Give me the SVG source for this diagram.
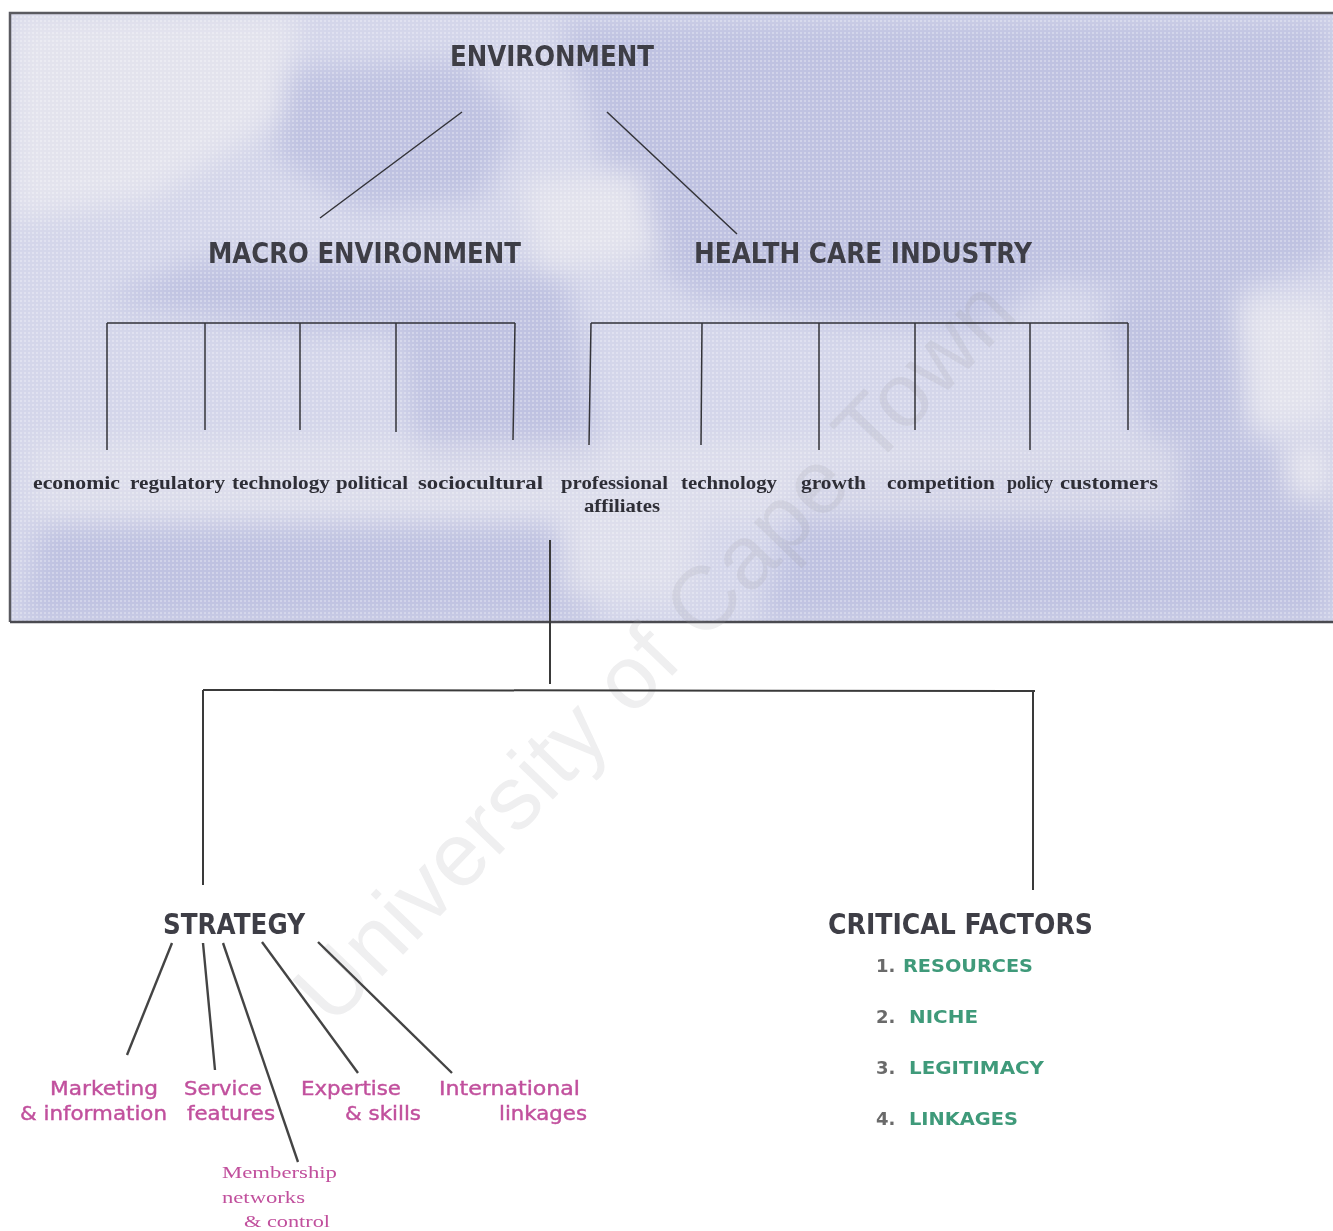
<svg xmlns="http://www.w3.org/2000/svg" width="1333" height="1231" viewBox="0 0 1333 1231">
  <defs>
    <filter id="soft" x="-20%" y="-20%" width="140%" height="140%">
      <feGaussianBlur stdDeviation="14"/>
    </filter>
    <pattern id="dots" width="4" height="4" patternUnits="userSpaceOnUse">
      <rect x="0" y="0" width="2" height="2" fill="#ffffff" opacity="0.28"/>
    </pattern>
    <clipPath id="panelClip">
      <rect x="10" y="13" width="1323" height="609"/>
    </clipPath>
    <style>
      .hd { font-family: "DejaVu Sans", Verdana, sans-serif; font-weight: bold; font-size: 28px; fill: #3e3e46; }
      .fac { font-family: "Liberation Serif", "Times New Roman", serif; font-weight: bold; font-size: 19px; fill: #2e2e36; }
      .ln { stroke: #333338; stroke-width: 1.5; fill: none; }
      .cn { stroke: #3a3a3a; stroke-width: 2; fill: none; }
      .st { stroke: #444; stroke-width: 2.4; fill: none; }
      .pk { font-family: "DejaVu Sans", Verdana, sans-serif; font-size: 19px; fill: #c1509d; stroke: #c1509d; stroke-width: 0.4; }
      .pks { font-family: "Liberation Serif", "Times New Roman", serif; font-size: 17px; fill: #c1509d; }
      .num { font-family: "DejaVu Sans", Verdana, sans-serif; font-weight: bold; font-size: 18px; fill: #6a6a6a; }
      .cf { font-family: "DejaVu Sans", Verdana, sans-serif; font-weight: bold; font-size: 18px; fill: #3f9a7a; }
    </style>
  </defs>

  <rect width="1333" height="1231" fill="#ffffff"/>

  <!-- cloud-textured environment panel -->
  <g id="panel">
    <g clip-path="url(#panelClip)">
      <rect x="10" y="13" width="1323" height="609" fill="#d4d6ea"/>
      <!-- darker cloud masses -->
      <g fill="#bfc2e1" filter="url(#soft)">
        <path d="M560 20 L1333 20 L1333 260 L1200 300 L1050 280 L980 330 L820 320 L700 300 L620 240 L600 150 Z"/>
        <path d="M260 70 L460 60 L520 120 L480 200 L360 210 L280 160 Z"/>
        <path d="M100 300 L200 260 L560 270 L580 330 L300 330 Z"/>
        <path d="M400 330 L580 330 L600 470 L420 470 Z"/>
        <path d="M40 520 L560 520 L600 622 L20 622 Z"/>
        <path d="M800 470 L1333 440 L1333 622 L760 622 Z"/>
        <path d="M1100 300 L1240 280 L1260 440 L1150 450 Z"/>
      </g>
      <!-- pale patches -->
      <g fill="#e3e3ed" filter="url(#soft)">
        <path d="M10 13 L300 13 L280 120 L150 200 L10 220 Z"/>
        <path d="M1240 300 L1333 300 L1333 420 L1250 430 Z"/>
        <path d="M1280 440 L1333 440 L1333 500 L1290 500 Z"/>
        <path d="M520 180 L640 170 L660 260 L540 270 Z"/>
        <path d="M30 440 L1180 440 L1180 520 L30 520 Z" opacity="0.6"/>
        <path d="M560 520 L700 520 L690 600 L560 600 Z" opacity="0.7"/>
      </g>
      <rect x="10" y="13" width="1323" height="609" fill="url(#dots)"/>
    </g>
    <!-- panel frame -->
    <path d="M10 622 L10 13 L1333 13" stroke="#5a5a60" stroke-width="2.5" fill="none"/>
    <line x1="10" y1="622" x2="1333" y2="622" stroke="#4a4a50" stroke-width="2.5"/>
  </g>

  <!-- faint institutional watermark -->
  <g id="watermark">
    <text x="676" y="672" transform="rotate(-46 676 672)" text-anchor="middle"
      font-family="'Liberation Sans', Arial, sans-serif" font-size="90" fill="#9a9aa0" opacity="0.16"
      textLength="990" lengthAdjust="spacing">University of Cape Town</text>
  </g>

  <!-- connectors -->
  <g id="connectors">
    <line class="ln" x1="462" y1="112" x2="320" y2="218"/>
    <line class="ln" x1="607" y1="112" x2="737" y2="234"/>

    <!-- macro environment bracket -->
    <line class="ln" x1="107" y1="323" x2="515" y2="323"/>
    <line class="ln" x1="107" y1="323" x2="107" y2="450"/>
    <line class="ln" x1="205" y1="323" x2="205" y2="430"/>
    <line class="ln" x1="300" y1="323" x2="300" y2="430"/>
    <line class="ln" x1="396" y1="323" x2="396" y2="432"/>
    <line class="ln" x1="515" y1="323" x2="513" y2="440"/>

    <!-- health care industry bracket -->
    <line class="ln" x1="591" y1="323" x2="1128" y2="323"/>
    <line class="ln" x1="591" y1="323" x2="589" y2="445"/>
    <line class="ln" x1="702" y1="323" x2="701" y2="445"/>
    <line class="ln" x1="819" y1="323" x2="819" y2="450"/>
    <line class="ln" x1="915" y1="323" x2="915" y2="430"/>
    <line class="ln" x1="1030" y1="323" x2="1030" y2="450"/>
    <line class="ln" x1="1128" y1="323" x2="1128" y2="430"/>

    <!-- environment to strategy and critical factors -->
    <line class="cn" x1="550" y1="540" x2="550" y2="684"/>
    <line class="cn" x1="203" y1="690" x2="1035" y2="691"/>
    <line class="cn" x1="203" y1="690" x2="203" y2="885"/>
    <line class="cn" x1="1033" y1="691" x2="1033" y2="890"/>

    <!-- strategy spokes -->
    <line class="st" x1="172" y1="943" x2="127" y2="1055"/>
    <line class="st" x1="203" y1="943" x2="215" y2="1070"/>
    <line class="st" x1="223" y1="943" x2="298" y2="1162"/>
    <line class="st" x1="262" y1="942" x2="358" y2="1073"/>
    <line class="st" x1="318" y1="942" x2="452" y2="1073"/>
  </g>

  <g id="environment">
    <text class="hd" x="450" y="66" textLength="204" lengthAdjust="spacingAndGlyphs">ENVIRONMENT</text>
  </g>
  <g id="macro-environment">
    <text class="hd" x="208" y="263" textLength="313" lengthAdjust="spacingAndGlyphs">MACRO ENVIRONMENT</text>
  </g>
  <g id="health-care-industry">
    <text class="hd" x="694" y="263" textLength="338" lengthAdjust="spacingAndGlyphs">HEALTH CARE INDUSTRY</text>
  </g>

  <!-- factor labels -->
  <g id="macro-factors">
    <text class="fac" x="33" y="489" textLength="87" lengthAdjust="spacingAndGlyphs">economic</text>
    <text class="fac" x="130" y="489" textLength="95" lengthAdjust="spacingAndGlyphs">regulatory</text>
    <text class="fac" x="232" y="489" textLength="98" lengthAdjust="spacingAndGlyphs">technology</text>
    <text class="fac" x="336" y="489" textLength="72" lengthAdjust="spacingAndGlyphs">political</text>
    <text class="fac" x="418" y="489" textLength="125" lengthAdjust="spacingAndGlyphs">sociocultural</text>
  </g>
  <g id="industry-factors">
    <text class="fac" x="561" y="489" textLength="107" lengthAdjust="spacingAndGlyphs">professional</text>
    <text class="fac" x="622" y="512" text-anchor="middle" textLength="76" lengthAdjust="spacingAndGlyphs">affiliates</text>
    <text class="fac" x="681" y="489" textLength="96" lengthAdjust="spacingAndGlyphs">technology</text>
    <text class="fac" x="801" y="489" textLength="65" lengthAdjust="spacingAndGlyphs">growth</text>
    <text class="fac" x="887" y="489" textLength="108" lengthAdjust="spacingAndGlyphs">competition</text>
    <text class="fac" x="1007" y="489" textLength="46" lengthAdjust="spacingAndGlyphs">policy</text>
    <text class="fac" x="1060" y="489" textLength="98" lengthAdjust="spacingAndGlyphs">customers</text>
  </g>

  <g id="strategy">
    <text class="hd" x="163" y="934" textLength="142" lengthAdjust="spacingAndGlyphs">STRATEGY</text>
  </g>

  <g id="strategy-marketing">
    <text class="pk" x="50" y="1095" textLength="108" lengthAdjust="spacingAndGlyphs">Marketing</text>
    <text class="pk" x="20" y="1120" textLength="147" lengthAdjust="spacingAndGlyphs">&amp; information</text>
  </g>
  <g id="strategy-service">
    <text class="pk" x="184" y="1095" textLength="78" lengthAdjust="spacingAndGlyphs">Service</text>
    <text class="pk" x="187" y="1120" textLength="88" lengthAdjust="spacingAndGlyphs">features</text>
  </g>
  <g id="strategy-membership">
    <text class="pks" x="222" y="1178" textLength="115" lengthAdjust="spacingAndGlyphs">Membership</text>
    <text class="pks" x="222" y="1203" textLength="83" lengthAdjust="spacingAndGlyphs">networks</text>
    <text class="pks" x="244" y="1227" textLength="86" lengthAdjust="spacingAndGlyphs">&amp; control</text>
  </g>
  <g id="strategy-expertise">
    <text class="pk" x="301" y="1095" textLength="100" lengthAdjust="spacingAndGlyphs">Expertise</text>
    <text class="pk" x="345" y="1120" textLength="76" lengthAdjust="spacingAndGlyphs">&amp; skills</text>
  </g>
  <g id="strategy-international">
    <text class="pk" x="439" y="1095" textLength="141" lengthAdjust="spacingAndGlyphs">International</text>
    <text class="pk" x="499" y="1120" textLength="88" lengthAdjust="spacingAndGlyphs">linkages</text>
  </g>

  <g id="critical-factors">
    <text class="hd" x="828" y="934" textLength="265" lengthAdjust="spacingAndGlyphs">CRITICAL FACTORS</text>
    <text class="num" x="876" y="972">1.</text>
    <text class="cf" x="903" y="972" textLength="130" lengthAdjust="spacingAndGlyphs">RESOURCES</text>
    <text class="num" x="876" y="1023">2.</text>
    <text class="cf" x="909" y="1023" textLength="69" lengthAdjust="spacingAndGlyphs">NICHE</text>
    <text class="num" x="876" y="1074">3.</text>
    <text class="cf" x="909" y="1074" textLength="135" lengthAdjust="spacingAndGlyphs">LEGITIMACY</text>
    <text class="num" x="876" y="1125">4.</text>
    <text class="cf" x="909" y="1125" textLength="109" lengthAdjust="spacingAndGlyphs">LINKAGES</text>
  </g>
</svg>
